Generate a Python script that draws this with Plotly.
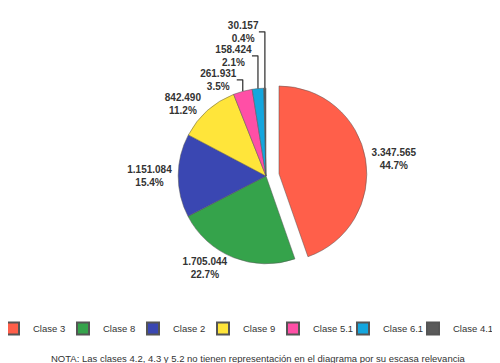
import plotly.graph_objects as go

labels = ["Clase 3", "Clase 8", "Clase 2", "Clase 9", "Clase 5.1", "Clase 6.1", "Clase 4.1"]
values = [3347565, 1705044, 1151084, 842490, 261931, 158424, 30157]
value_text = ["3.347.565", "1.705.044", "1.151.084", "842.490", "261.931", "158.424", "30.157"]
pct_text = ["44.7%", "22.7%", "15.4%", "11.2%", "3.5%", "2.1%", "0.4%"]
colors = ["#FF5F4A", "#35A34B", "#3A47B2", "#FFE53A", "#FF4FA6", "#14A6DE", "#5A5A5A"]
pulls = [0.15, 0, 0, 0, 0, 0, 0]

W, H = 500, 363
cx, cy, R = 258, 168, 101  # pixel layout of pie domain

fig = go.Figure(go.Pie(
    labels=labels,
    values=values,
    text=[f"{v}<br>{p}" for v, p in zip(value_text, pct_text)],
    textinfo="text",
    textposition="outside",
    hoverinfo="label+value+percent",
    sort=False,
    direction="clockwise",
    rotation=0,
    pull=pulls,
    marker=dict(colors=colors, line=dict(color="#555555", width=0.5)),
    outsidetextfont=dict(family="Liberation Sans, Arial", size=10, color="#333333"),
    texttemplate="<b>%{text}</b>",
    domain=dict(x=[(cx - R) / W, (cx + R) / W], y=[1 - (cy + R) / H, 1 - (cy - R) / H]),
))

fig.update_layout(
    width=W, height=H,
    margin=dict(l=0, r=0, t=0, b=0, autoexpand=False),
    paper_bgcolor="white",
    plot_bgcolor="white",
    font=dict(family="Liberation Sans, Arial", size=10, color="#333333"),
    legend=dict(
        orientation="h",
        x=0, xanchor="left",
        y=1 - 306 / H, yanchor="top",
        entrywidth=40, entrywidthmode="pixels",
        indentation=-15,
        font=dict(size=9.5, color="#333333"),
        itemsizing="constant",
        tracegroupgap=0,
    ),
    annotations=[dict(
        text="NOTA: Las clases 4.2, 4.3 y 5.2 no tienen representación en el diagrama por su escasa relevancia",
        x=0.5, y=1 - 350 / H, xref="paper", yref="paper",
        xanchor="center", yanchor="middle", showarrow=False,
        font=dict(size=9.5, color="#333333"),
    )],
)

fig.write_html("out.html")
